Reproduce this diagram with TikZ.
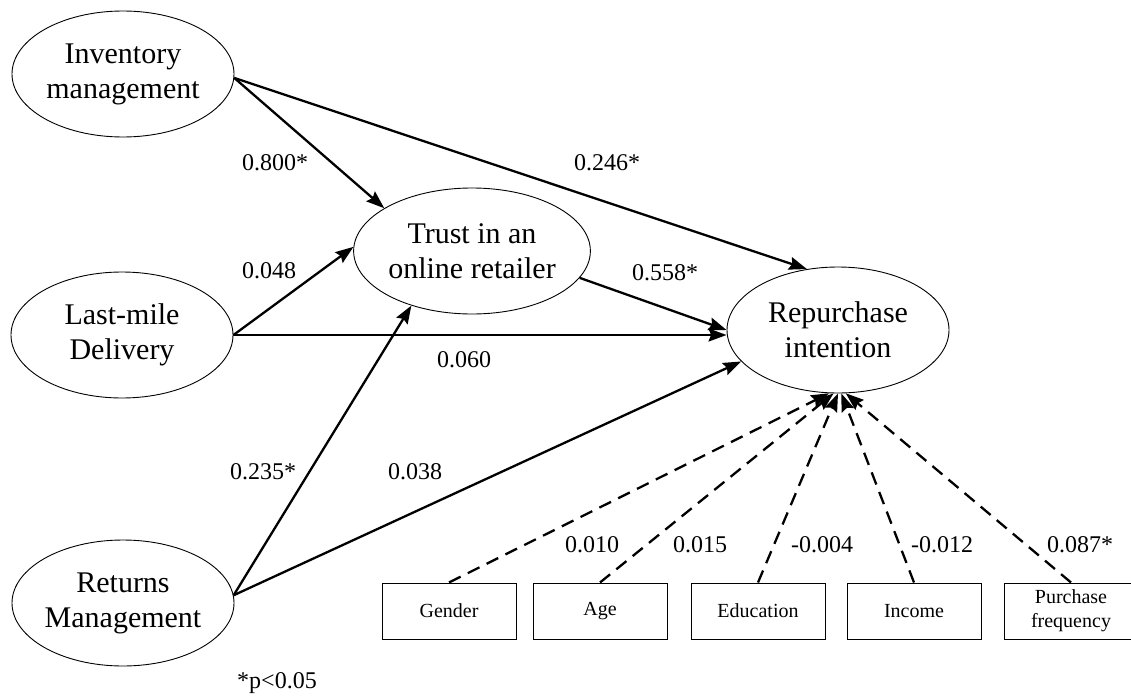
\documentclass[tikz,border=0pt]{standalone}
\usepackage{fontspec}
\setmainfont{Liberation Serif}
\usetikzlibrary{arrows.meta,shapes.geometric}
\begin{document}
\begin{tikzpicture}[x=1pt,y=-1pt,
  latent/.style={draw,ellipse,line width=0.9pt,minimum width=222pt,minimum height=126pt,inner sep=0pt,align=center,font=\fontsize{30}{35}\selectfont},
  obs/.style={draw,rectangle,line width=1pt,minimum width=134pt,minimum height=56pt,inner sep=0pt,align=center,font=\fontsize{20}{24}\selectfont},
  eff/.style={line width=2.3pt,-{Stealth[length=18pt,width=13pt,inset=2.5pt]}},
  ctl/.style={eff,dash pattern=on 13pt off 8pt},
  coef/.style={font=\fontsize{24}{28}\selectfont,inner sep=0pt}]
\useasboundingbox (0,0) rectangle (1131,698);

% latent constructs
\node[latent] (inv) at (123,74) {Inventory\\management};
\node[latent] (last) at (122,335) {Last-mile\\Delivery};
\node[latent] (ret) at (123,603) {Returns\\Management};
\node[latent] (trust) at (472,251) {Trust in an\\online retailer};
\node[latent] (rep) at (838,330) {Repurchase\\intention};

% control variables
\node[obs] (gen) at (449,611) {Gender};
\node[obs] (age) at (600,611) {Age};
\node[obs] (edu) at (758,611) {Education};
\node[obs] (inc) at (914,611) {Income};
\node[obs] (pf) at (1071,611) {Purchase\\frequency};

% structural paths
\draw[eff] (inv.-2) -- (trust.154);
\draw[eff] (inv.-2) -- (rep.117);
\draw[eff] (last.east) -- (trust.178);
\draw[eff] (last.east) -- (last.east -| rep.west);
\draw[eff] (ret.4) -- (trust.222);
\draw[eff] (ret.4) -- (rep.198);
\draw[eff] (trust.-14) -- (rep.180);

% control paths
\draw[ctl] (gen.north) -- (rep.262);
\draw[ctl] (age.north) -- (rep.266);
\draw[ctl] (edu.north) -- (rep.270);
\draw[ctl] (inc.north) -- (rep.273);
\draw[ctl] (pf.north) -- (rep.277);

% coefficients
\node[coef] (c1) at (275,163) {0.800*};
\node[coef] (c2) at (607,163) {0.246*};
\node[coef] (c3) at (269,271) {0.048};
\node[coef] (c4) at (665,273) {0.558*};
\node[coef] (c5) at (464,360) {0.060};
\node[coef] (c6) at (263,472) {0.235*};
\node[coef] (c7) at (415,472) {0.038};
\node[coef] (c8) at (592,545) {0.010};
\node[coef] (c9) at (700,545) {0.015};
\node[coef] (c10) at (822,545) {-0.004};
\node[coef] (c11) at (942,545) {-0.012};
\node[coef] (c12) at (1080,545) {0.087*};
\node[coef] (note) at (277,683) {*p<0.05};
\end{tikzpicture}
\end{document}
